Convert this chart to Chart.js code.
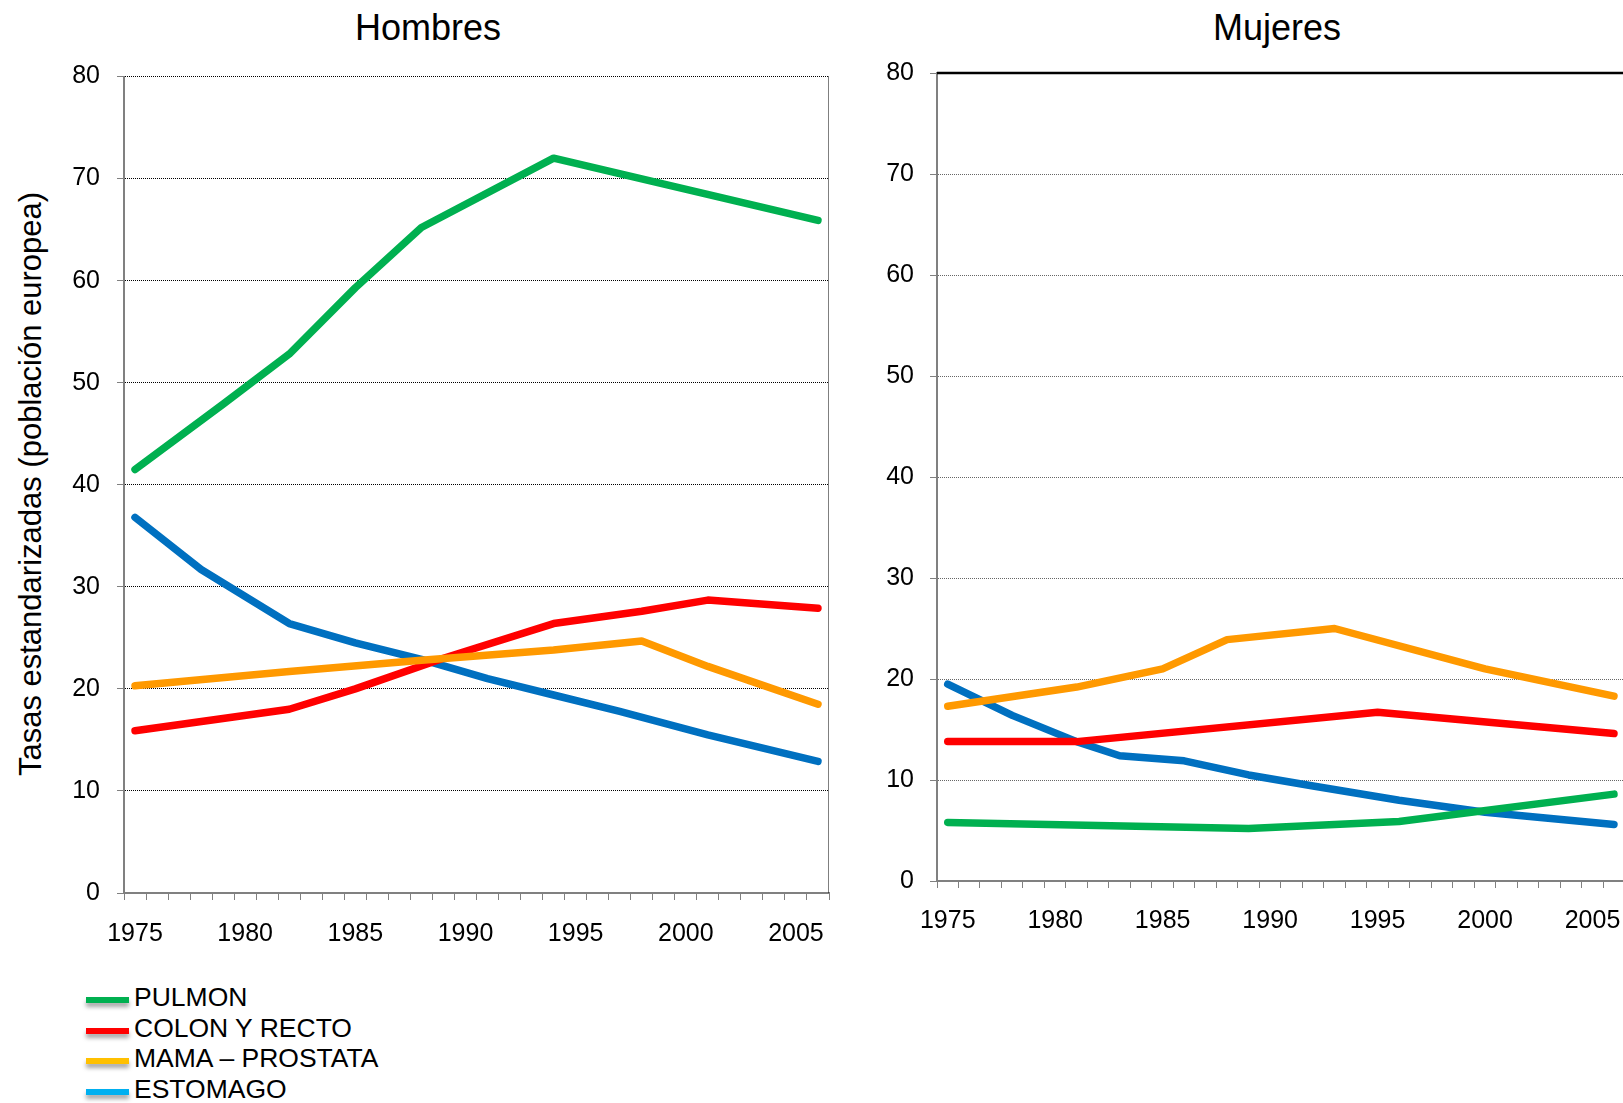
<!DOCTYPE html>
<html>
<head>
<meta charset="utf-8">
<script src="https://cdn.jsdelivr.net/npm/chart.js@4.4.1/dist/chart.umd.min.js"></script>
<style>
  body { margin: 0; background: #fff; width: 1623px; height: 1103px; position: relative; overflow: hidden;
         font-family: 'Liberation Sans', Arial, sans-serif; color: #000; }
  #leftBox { position: absolute; left: 0; top: 0; width: 845px; height: 960px; }
  #rightBox { position: absolute; left: 850px; top: 0; width: 782px; height: 960px; }
  .title { position: absolute; top: 28px; transform: translate(-50%, -50%); font-size: 36px; white-space: nowrap; }
  #yTitle { position: absolute; left: 31px; top: 484px; transform: translate(-50%, -50%) rotate(-90deg);
            font-size: 31px; white-space: nowrap; }
  #legend { position: absolute; left: 86px; top: 984px; }
  .item { position: relative; height: 30.5px; width: 360px; }
  .swatch { position: absolute; left: 0; top: 13px; width: 43px; height: 6px; box-shadow: 0 4px 4px rgba(0,0,0,0.35); }
  .label { position: absolute; left: 48px; top: 0px; font-size: 26.5px; line-height: 26px; white-space: nowrap; }
</style>
</head>
<body>
<div class="title" style="left:428px">Hombres</div>
<div class="title" style="left:1277px">Mujeres</div>
<div id="yTitle">Tasas estandarizadas (población europea)</div>
<div id="leftBox"><canvas id="hombresChart"></canvas></div>
<div id="rightBox"><canvas id="mujeresChart"></canvas></div>
<div id="legend"></div>

<script>
  // categories (one per year, labels every 5 years)
  const years = ['1975','1976','1977','1978','1979','1980','1981','1982','1983','1984','1985','1986','1987','1988','1989','1990',
                 '1991','1992','1993','1994','1995','1996','1997','1998','1999','2000','2001','2002','2003','2004','2005','2006'];
  const yTicks = [0, 10, 20, 30, 40, 50, 60, 70, 80];

  const seriesNames = ['PULMON', 'COLON Y RECTO', 'MAMA – PROSTATA', 'ESTOMAGO'];
  const lineColors = ['#00B050', '#FF0000', '#FF9900', '#0070C0'];
  const legendColors = ['#00B050', '#FF0000', '#FFC000', '#00B0F0'];
  const drawOrder = [2, 1, 0, 3];

  // [year, rate]
  const hombresPulmon = [[1975, 41.5], [1979, 47.9], [1982, 52.8], [1985, 59.3], [1988, 65.2], [1994, 72.0], [2006, 65.9]];
  const hombresColon = [[1975, 15.9], [1982, 18.0], [1985, 20.0], [1989, 23.0], [1994, 26.4], [1998, 27.6], [2001, 28.7], [2006, 27.9]];
  const hombresMama = [[1975, 20.3], [1982, 21.7], [1988, 22.8], [1994, 23.8], [1998, 24.7], [2001, 22.2], [2006, 18.5]];
  const hombresEstomago = [[1975, 36.8], [1978, 31.7], [1982, 26.4], [1985, 24.5], [1988, 22.9], [1991, 21.0], [1994, 19.4],
                           [1997, 17.8], [2001, 15.5], [2006, 12.9]];

  const mujeresPulmon = [[1975, 5.8], [1989, 5.2], [1996, 5.9], [2006, 8.6]];
  const mujeresColon = [[1975, 13.8], [1981, 13.8], [1995, 16.7], [2006, 14.6]];
  const mujeresMama = [[1975, 17.3], [1981, 19.2], [1985, 21.0], [1988, 23.9], [1993, 25.0], [2000, 21.0], [2006, 18.3]];
  const mujeresEstomago = [[1975, 19.5], [1978, 16.4], [1981, 13.8], [1983, 12.4], [1986, 11.9], [1989, 10.5], [1992, 9.4],
                           [1996, 8.0], [2000, 6.8], [2006, 5.6]];

  const FONT = "'Liberation Sans', Arial, sans-serif";

  // extra frame lines (dotted right border / solid top line)
  const framePlugin = {
    id: 'frame',
    beforeDatasetsDraw(chart, args, opts) {
      const { ctx, chartArea: a } = chart;
      ctx.save();
      if (opts.rightDotted) {
        ctx.strokeStyle = '#000';
        ctx.lineWidth = 1;
        ctx.setLineDash([1, 1]);
        ctx.beginPath();
        ctx.moveTo(Math.round(a.right) - 0.5, a.top);
        ctx.lineTo(Math.round(a.right) - 0.5, a.bottom);
        ctx.stroke();
      }
      if (opts.topSolid) {
        ctx.setLineDash([]);
        ctx.strokeStyle = '#000';
        ctx.lineWidth = 2.5;
        ctx.beginPath();
        ctx.moveTo(a.left, a.top);
        ctx.lineTo(a.right, a.top);
        ctx.stroke();
      }
      ctx.restore();
    }
  };

  function toPoints(pairs) {
    return pairs.map(p => ({ x: String(p[0]), y: p[1] }));
  }

  function makeChart(id, seriesList, cfg) {
    const datasets = seriesList.map((s, i) => ({
      label: seriesNames[i],
      data: toPoints(s),
      borderColor: lineColors[i],
      borderWidth: 7.5,
      borderCapStyle: 'round',
      borderJoinStyle: 'round',
      pointRadius: 0,
      tension: 0,
      spanGaps: true,
      order: drawOrder[i]
    }));

    return new Chart(document.getElementById(id), {
      type: 'line',
      data: { labels: years, datasets: datasets },
      plugins: [framePlugin],
      options: {
        responsive: true,
        maintainAspectRatio: false,
        animation: false,
        layout: { padding: { top: cfg.top, right: cfg.right, left: 0, bottom: 0 } },
        plugins: {
          legend: { display: false },
          tooltip: { enabled: false },
          frame: { rightDotted: cfg.rightDotted, topSolid: cfg.topSolid }
        },
        scales: {
          x: {
            type: 'category',
            offset: true,
            grid: { offset: true, drawOnChartArea: false, drawTicks: true, tickLength: 7, color: '#808080', lineWidth: 1 },
            border: { color: '#808080', width: 2 },
            ticks: {
              autoSkip: false, maxRotation: 0, minRotation: 0, padding: cfg.xPad, color: '#000',
              font: { family: FONT, size: 25 },
              callback: function (v) {
                const lab = this.getLabelForValue(v);
                return Number(lab) % 5 === 0 ? lab : '';
              }
            },
            afterFit: s => { s.height = cfg.xHeight; }
          },
          y: {
            min: yTicks[0],
            max: yTicks[yTicks.length - 1],
            ticks: { stepSize: yTicks[1] - yTicks[0], padding: cfg.yPad, color: '#000', font: { family: FONT, size: 25 } },
            grid: {
              drawTicks: true, tickLength: 7, tickColor: '#808080', lineWidth: 1,
              color: c => (c.tick.value === 0 || (cfg.topSolid && c.tick.value === 80)) ? 'rgba(0,0,0,0)' : cfg.gridColor
            },
            border: { color: '#808080', width: 2, dash: [1, 1] },
            afterFit: s => { s.width = cfg.yWidth; }
          }
        }
      }
    });
  }

  makeChart('hombresChart', [hombresPulmon, hombresColon, hombresMama, hombresEstomago], {
    top: 76.5, right: 16, xHeight: 67, yWidth: 124, xPad: 19, yPad: 17,
    gridColor: '#000', rightDotted: true, topSolid: false
  });

  makeChart('mujeresChart', [mujeresPulmon, mujeresColon, mujeresMama, mujeresEstomago], {
    top: 73, right: 0, xHeight: 79, yWidth: 87, xPad: 18, yPad: 16,
    gridColor: '#666', rightDotted: false, topSolid: true
  });

  // legend below the left chart
  const legend = document.getElementById('legend');
  seriesNames.forEach((name, i) => {
    const row = document.createElement('div');
    row.className = 'item';
    row.innerHTML = '<div class="swatch" style="background:' + legendColors[i] + '"></div><div class="label">' + name + '</div>';
    legend.appendChild(row);
  });
</script>
</body>
</html>
